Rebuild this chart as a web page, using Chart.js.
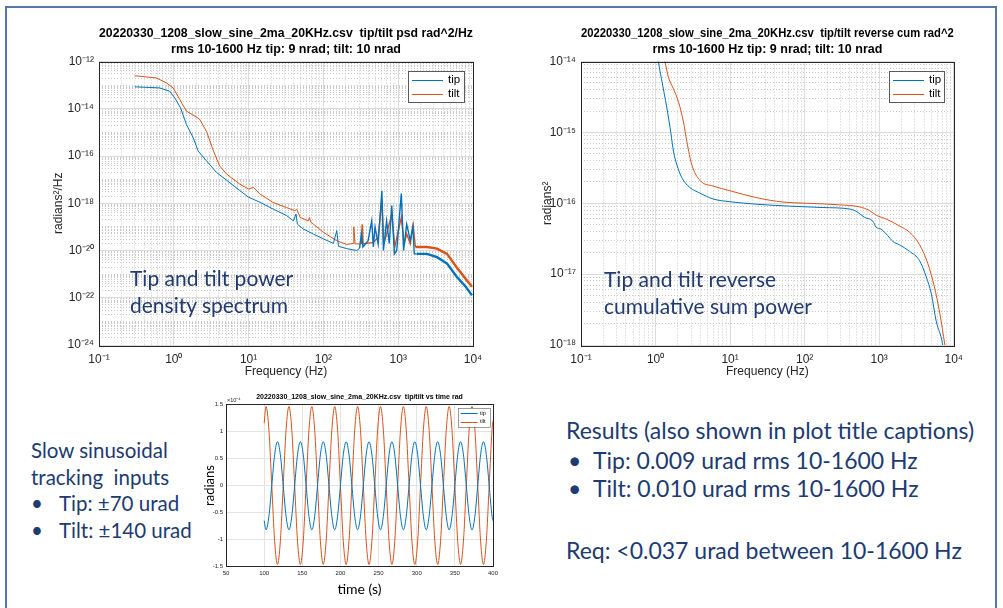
<!DOCTYPE html>
<html>
<head>
<meta charset="utf-8">
<script src="https://cdn.jsdelivr.net/npm/chart.js@4.4.1/dist/chart.umd.min.js"></script>
<style>
  body { margin: 0; width: 1003px; height: 608px; background: #fff; overflow: hidden; position: relative; }
  #frame { position: absolute; left: 5px; top: 6px; width: 988px; height: 640px; border: 2px solid #5676a9; }
  canvas { position: absolute; }
  .note { position: absolute; color: #203a72; font-family: Lato, sans-serif; font-size: 21px; line-height: 26px; white-space: nowrap; }
  .small { font-size: 20.5px; }
  .big { font-size: 23px; }
</style>
</head>
<body>
<div id="frame"></div>
<canvas id="psd-chart" width="450" height="358" style="left:40px;top:21px"></canvas>
<canvas id="cum-chart" width="440" height="358" style="left:530px;top:21px"></canvas>
<canvas id="time-chart" width="303" height="208" style="left:200px;top:390px"></canvas>

<div class="note" style="left:130px;top:265px">Tip and tilt power</div>
<div class="note" style="left:130px;top:292px">density spectrum</div>
<div class="note" style="left:604px;top:266px">Tip and tilt reverse</div>
<div class="note" style="left:604px;top:293px">cumulative sum power</div>

<div class="note small" style="left:31px;top:437px">Slow sinusoidal</div>
<div class="note small" style="left:31px;top:464px">tracking&nbsp; inputs</div>
<div class="note small" style="left:31px;top:490px">•</div>
<div class="note small" style="left:59px;top:490px">Tip: ±70 urad</div>
<div class="note small" style="left:31px;top:517px">•</div>
<div class="note small" style="left:59px;top:517px">Tilt: ±140 urad</div>

<div class="note big" style="left:566px;top:417px">Results (also shown in plot title captions)</div>
<div class="note big" style="left:568px;top:447px">•</div>
<div class="note big" style="left:593px;top:447px">Tip: 0.009 urad rms 10-1600 Hz</div>
<div class="note big" style="left:568px;top:475px">•</div>
<div class="note big" style="left:593px;top:475px">Tilt: 0.010 urad rms 10-1600 Hz</div>
<div class="note big" style="left:566px;top:537px">Req: &lt;0.037 urad between 10-1600 Hz</div>

<script>
'use strict';

// ---- data ----

const psdTipHz = [0.30, 0.65, 0.88, 1.03, 1.23, 1.48, 1.82, 2.12, 2.74, 3.73, 5.07, 7.66, 10, 14.2, 21.4, 32.3, 39.7, 43, 44.9, 54, 73, 100, 136, 151, 159, 205, 279,
                  305, 321, 338, 396, 443, 465, 490, 540, 605, 635, 700, 760, 820, 890, 955, 1100, 1180, 1300, 1450, 1570, 1640, 1780, 2420, 3300, 4500, 6100, 8000, 9700];
const psdTip = [8.5e-14, 7.6e-14, 5.5e-14, 2.9e-14, 1.1e-14, 2.1e-15, 5.9e-16, 1.6e-16, 6.2e-17, 2.0e-17, 9.5e-18, 3.4e-18, 1.8e-18, 1.1e-18, 5.6e-19, 3.0e-19, 1.8e-19, 3.5e-19, 1.3e-19, 8.1e-20, 5.0e-20, 3.1e-20, 2.0e-20, 6.9e-20, 1.5e-20, 1.2e-20, 1.0e-20,
                1.25e-20, 5e-20, 1.4e-20, 2.6e-20, 1.8e-19, 1.4e-20, 1e-19, 1.9e-20, 3.4e-18, 1e-20, 1.8e-19, 2e-20, 8e-19, 7.2e-21, 1e-20, 2.6e-18, 1e-20, 1.3e-19, 2.6e-20, 1e-19, 7.2e-21, 7.2e-21, 7.2e-21, 5.2e-21, 2.8e-21, 7.6e-22, 2.9e-22, 1.26e-22];

const psdTiltHz = [0.30, 0.59, 0.80, 0.98, 1.2, 1.47, 1.81, 2.2, 2.74, 3.4, 4.1, 5.1, 7.6, 10, 11.6, 14.1, 21, 32, 41.6, 44, 49, 63, 65, 68, 100, 151, 205, 252, 255, 265,
                   323, 330, 340, 465, 540, 605, 640, 700, 820, 900, 1100, 1200, 1300, 1450, 1580, 1700, 2450, 3300, 4500, 6000, 7900, 9700];
const psdTilt = [2.5e-13, 2.0e-13, 1.23e-13, 7.6e-14, 2.5e-14, 8e-15, 5.4e-15, 3.7e-15, 1.1e-15, 1.6e-16, 3.8e-17, 1.7e-17, 6.5e-18, 4.0e-18, 4.7e-18, 2.5e-18, 1.1e-18, 6.6e-19, 4.8e-19, 5.6e-19, 2.5e-19, 1.8e-19, 2.5e-19, 1.6e-19, 5.9e-20, 2.6e-20, 1.8e-20, 2.0e-20, 1.0e-19, 1.9e-20,
                 1.9e-20, 1.3e-19, 1.9e-20, 2.2e-20, 3.6e-20, 1.5e-18, 1.9e-20, 5e-20, 3.5e-19, 1.4e-20, 2.5e-19, 1.9e-20, 5e-20, 1.9e-20, 1.2e-19, 1.4e-20, 1.4e-20, 1.2e-20, 7.2e-21, 2e-21, 6.5e-22, 2.9e-22];

const cumTipHz = [1.0, 1.09, 1.2, 1.42, 1.6, 1.74, 1.93, 2.25, 2.9, 3.9, 5.9, 10, 22.5, 63, 176, 400, 500, 640, 820, 910, 1060, 1300, 1520, 1860, 2550, 3480, 4280, 5000, 5800, 7100, 7500];
const cumTip = [2e-14, 1e-14, 5.7e-15, 2.2e-15, 1e-15, 5.4e-16, 3.5e-16, 2.3e-16, 1.66e-16, 1.4e-16, 1.15e-16, 1.05e-16, 9.7e-17, 9.1e-17, 8.7e-17, 8.3e-17, 7.6e-17, 6.3e-17, 5.6e-17, 4.6e-17, 4.3e-17, 3.5e-17, 2.9e-17, 2.6e-17, 2.1e-17, 1.55e-17, 9.1e-18, 5.3e-18, 2.2e-18, 1e-18, 6e-19];

const cumTiltHz = [1.2, 1.34, 1.49, 1.74, 2.03, 2.37, 2.63, 3.06, 3.94, 5.9, 10, 22.5, 51, 106, 296, 540, 740, 910, 1280, 1860, 2550, 3480, 4500, 5500, 6500, 7600, 8000];
const cumTilt = [2e-14, 1e-14, 6e-15, 4.1e-15, 2.7e-15, 1.4e-15, 7.4e-16, 3.5e-16, 2.1e-16, 1.75e-16, 1.5e-16, 1.2e-16, 1.04e-16, 1.0e-16, 9.5e-17, 8.9e-17, 7.9e-17, 6.8e-17, 5.9e-17, 4.8e-17, 3.9e-17, 2.6e-17, 1.4e-17, 6.6e-18, 2.8e-18, 1e-18, 7e-19];

// time trace, radians x 1e-4
const timeSec = [100,
  102.5, 106.25, 110, 113.75, 117.5, 121.25, 125, 128.75,
  132.5, 136.25, 140, 143.75, 147.5, 151.25, 155, 158.75,
  162.5, 166.25, 170, 173.75, 177.5, 181.25, 185, 188.75,
  192.5, 196.25, 200, 203.75, 207.5, 211.25, 215, 218.75,
  222.5, 226.25, 230, 233.75, 237.5, 241.25, 245, 248.75,
  252.5, 256.25, 260, 263.75, 267.5, 271.25, 275, 278.75,
  282.5, 286.25, 290, 293.75, 297.5, 301.25, 305, 308.75,
  312.5, 316.25, 320, 323.75, 327.5, 331.25, 335, 338.75,
  342.5, 346.25, 350, 353.75, 357.5, 361.25, 365, 368.75,
  372.5, 376.25, 380, 383.75, 387.5, 391.25, 395, 398.75,
  400];
const tipRad = [-0.65,
  -0.82, -0.57, 0, 0.57, 0.81, 0.57, 0, -0.57,
  -0.82, -0.57, 0, 0.57, 0.81, 0.57, 0, -0.57,
  -0.82, -0.57, 0, 0.57, 0.81, 0.57, 0, -0.57,
  -0.82, -0.57, 0, 0.57, 0.81, 0.57, 0, -0.57,
  -0.82, -0.57, 0, 0.57, 0.81, 0.57, 0, -0.57,
  -0.82, -0.57, 0, 0.57, 0.81, 0.57, 0, -0.57,
  -0.82, -0.57, 0, 0.57, 0.81, 0.57, 0, -0.57,
  -0.82, -0.57, 0, 0.57, 0.81, 0.57, 0, -0.57,
  -0.82, -0.57, 0, 0.57, 0.81, 0.57, 0, -0.57,
  -0.82, -0.57, 0, 0.57, 0.81, 0.57, 0, -0.57,
  -0.65];
const tiltRad = [1.15,
  1.46, 1.03, 0, -1.03, -1.46, -1.03, 0, 1.03,
  1.46, 1.03, 0, -1.03, -1.46, -1.03, 0, 1.03,
  1.46, 1.03, 0, -1.03, -1.46, -1.03, 0, 1.03,
  1.46, 1.03, 0, -1.03, -1.46, -1.03, 0, 1.03,
  1.46, 1.03, 0, -1.03, -1.46, -1.03, 0, 1.03,
  1.46, 1.03, 0, -1.03, -1.46, -1.03, 0, 1.03,
  1.46, 1.03, 0, -1.03, -1.46, -1.03, 0, 1.03,
  1.46, 1.03, 0, -1.03, -1.46, -1.03, 0, 1.03,
  1.46, 1.03, 0, -1.03, -1.46, -1.03, 0, 1.03,
  1.46, 1.03, 0, -1.03, -1.46, -1.03, 0, 1.03,
  1.2];

// tick labels
const freqDecades = [-1, 0, 1, 2, 3, 4];
const psdDecades = [-24, -22, -20, -18, -16, -14, -12];
const cumDecades = [-18, -17, -16, -15, -14];
const timeTicks = [50, 100, 150, 200, 250, 300, 350, 400];
const radTicks = [-1.5, -1, -0.5, 0, 0.5, 1, 1.5];

const psdTitle = ['20220330_1208_slow_sine_2ma_20KHz.csv  tip/tilt psd rad^2/Hz', 'rms 10-1600 Hz tip: 9 nrad; tilt: 10 nrad'];
const cumTitle = ['20220330_1208_slow_sine_2ma_20KHz.csv  tip/tilt reverse cum rad^2', 'rms 10-1600 Hz tip: 9 nrad; tilt: 10 nrad'];
const timeTitle = '20220330_1208_slow_sine_2ma_20KHz.csv  tip/tilt vs time rad';

const tipColor = '#0072BD';
const tiltColor = '#D95319';
const axisInk = '#262626';
const mlFont = '"Liberation Sans", Arial, sans-serif';

// ---- helpers ----

const supMap = {'-': '⁻', '0': '⁰', '1': '¹', '2': '²', '3': '³', '4': '⁴', '5': '⁵', '6': '⁶', '7': '⁷', '8': '⁸', '9': '⁹'};
function sup(n) {
    return String(n).split('').map(c => supMap[c]).join('');
}

function pairs(xs, ys) {
    return xs.map((x, i) => ({x: x, y: ys[i]}));
}

function logGrid(lo, hi) {
    const out = [];
    for (let e = lo; e < hi; e++) {
	for (let m = 1; m < 10; m++) out.push({value: m * Math.pow(10, e)});
    }
    out.push({value: Math.pow(10, hi)});
    return out;
}

function labelledDecade(v, decades) {
    const e = Math.round(Math.log10(v));
    return Math.abs(v / Math.pow(10, e) - 1) < 1e-6 && decades.includes(e) ? e : null;
}

function logAxis(lo, hi, decades, pad, extra) {
    return Object.assign({
	type: 'logarithmic',
	min: Math.pow(10, lo),
	max: Math.pow(10, hi),
	afterBuildTicks: scale => { scale.ticks = logGrid(lo, hi); },
	ticks: {
	    autoSkip: false,
	    maxRotation: 0,
	    color: axisInk,
	    padding: pad,
	    font: {family: mlFont, size: 12},
	    callback: v => {
		const e = labelledDecade(v, decades);
		return e === null ? '' : '10' + sup(e);
	    },
	},
	grid: {
	    drawTicks: false,
	    color: ctx => labelledDecade(ctx.tick.value, decades) === null ? '#c9c9c9' : '#dcdcdc',
	},
	border: {
	    display: false,
	    dash: ctx => (ctx.tick && labelledDecade(ctx.tick.value, decades) === null) ? [1, 2] : [],
	},
    }, extra);
}

// plot box and exponent note
const axesBox = {
    id: 'axesBox',
    afterDatasetsDraw(chart, args, opts) {
	const {ctx, chartArea: a} = chart;
	ctx.save();
	ctx.strokeStyle = axisInk;
	ctx.lineWidth = 1;
	ctx.strokeRect(Math.round(a.left) + 0.5, Math.round(a.top) + 0.5, Math.round(a.width), Math.round(a.height));
	if (opts.corner) {
	    ctx.fillStyle = axisInk;
	    ctx.font = '5.5px ' + mlFont;
	    ctx.textBaseline = 'bottom';
	    ctx.fillText(opts.corner, a.left + 1, a.top - 1);
	}
	ctx.restore();
    },
};

// MATLAB style boxed legend in the upper right corner
const boxLegend = {
    id: 'boxLegend',
    afterDraw(chart, args, o) {
	const {ctx, chartArea: a} = chart;
	const x = Math.round(a.right - o.right - o.width);
	const y = Math.round(a.top + o.top);
	ctx.save();
	ctx.fillStyle = '#fff';
	ctx.fillRect(x, y, o.width, o.height);
	ctx.strokeStyle = '#5a5a5a';
	ctx.lineWidth = o.edge;
	ctx.strokeRect(x + 0.5, y + 0.5, o.width, o.height);
	ctx.font = o.size + 'px ' + mlFont;
	ctx.textBaseline = 'middle';
	chart.data.datasets.forEach((ds, i) => {
	    const cy = y + o.pad + (i + 0.5) * o.row;
	    ctx.strokeStyle = ds.borderColor;
	    ctx.lineWidth = 1;
	    ctx.beginPath();
	    ctx.moveTo(x + o.lineStart, Math.round(cy) + 0.5);
	    ctx.lineTo(x + o.lineStart + o.lineLen, Math.round(cy) + 0.5);
	    ctx.stroke();
	    ctx.fillStyle = '#000';
	    ctx.fillText(ds.label, x + o.textX, cy);
	});
	ctx.restore();
    },
};

function titleOpts(text, size, pad) {
    return {
	display: true,
	fullSize: false,
	text: text,
	color: '#000',
	font: {family: mlFont, size: size, weight: 'bold', lineHeight: 1.3},
	padding: {top: pad, bottom: pad},
    };
}

function freqLine(label, color, data, thick) {
    return {
	label: label,
	data: data,
	borderColor: color,
	borderWidth: 1,
	pointRadius: 0,
	tension: 0,
	segment: thick ? {borderWidth: ctx => ctx.p0.parsed.x > 1650 ? 2.4 : (ctx.p0.parsed.x > 300 ? 1.4 : 1)} : undefined,
    };
}

const legendBig = {width: 56, height: 31, right: 9, top: 9, pad: 2, row: 14, lineStart: 4, lineLen: 31, textX: 40, size: 11.5, edge: 1};
const freqTitle = {display: true, text: 'Frequency (Hz)', color: axisInk, font: {family: mlFont, size: 12}, padding: {top: 0, bottom: 0}};

// ---- PSD ----

new Chart(document.querySelector('#psd-chart'), {
    type: 'line',
    data: {
	datasets: [
	    freqLine('tip', tipColor, pairs(psdTipHz, psdTip), true),
	    freqLine('tilt', tiltColor, pairs(psdTiltHz, psdTilt), true),
	],
    },
    options: {
	responsive: false,
	animation: false,
	events: [],
	layout: {padding: {right: 17}},
	plugins: {
	    legend: {display: false},
	    tooltip: {enabled: false},
	    title: titleOpts(psdTitle, 12.5, 4),
	    boxLegend: legendBig,
	},
	scales: {
	    x: logAxis(-1, 4, freqDecades, 7, {
		afterFit: s => { s.height = 34; },
		title: freqTitle,
	    }),
	    y: logAxis(-24, -12, psdDecades, 5, {
		afterFit: s => { s.width = 59; },
		title: {display: true, text: 'radians²/Hz', color: axisInk, font: {family: mlFont, size: 12}, padding: {top: 11, bottom: 0}},
	    }),
	},
    },
    plugins: [axesBox, boxLegend],
});

// ---- reverse cumulative ----

new Chart(document.querySelector('#cum-chart'), {
    type: 'line',
    data: {
	datasets: [
	    Object.assign(freqLine('tip', tipColor, pairs(cumTipHz, cumTip), false), {cubicInterpolationMode: 'monotone'}),
	    Object.assign(freqLine('tilt', tiltColor, pairs(cumTiltHz, cumTilt), false), {cubicInterpolationMode: 'monotone'}),
	],
    },
    options: {
	responsive: false,
	animation: false,
	events: [],
	layout: {padding: {right: 16}},
	plugins: {
	    legend: {display: false},
	    tooltip: {enabled: false},
	    title: titleOpts(cumTitle, 12.5, 4),
	    boxLegend: Object.assign({}, legendBig, {width: 55, right: 10}),
	},
	scales: {
	    x: logAxis(-1, 4, freqDecades, 7, {
		afterFit: s => { s.height = 34; },
		title: freqTitle,
	    }),
	    y: logAxis(-18, -14, cumDecades, 5, {
		afterFit: s => { s.width = 51; },
		title: {display: true, text: 'radians²', color: axisInk, font: {family: mlFont, size: 12}, padding: {top: 10, bottom: 0}},
	    }),
	},
    },
    plugins: [axesBox, boxLegend],
});

// ---- time trace ----

function linAxis(min, max, ticks, extra) {
    return Object.assign({
	type: 'linear',
	min: min,
	max: max,
	afterBuildTicks: scale => { scale.ticks = ticks.map(v => ({value: v})); },
	ticks: {autoSkip: false, maxRotation: 0, color: axisInk, font: {family: mlFont, size: 6}, padding: 3, callback: v => String(v)},
	grid: {drawTicks: false, color: '#e3e3e3'},
	border: {display: false},
    }, extra);
}

new Chart(document.querySelector('#time-chart'), {
    type: 'line',
    data: {
	labels: timeSec,
	datasets: [
	    {label: 'tip', data: tipRad, borderColor: tipColor, borderWidth: 1, pointRadius: 0, cubicInterpolationMode: 'monotone'},
	    {label: 'tilt', data: tiltRad, borderColor: tiltColor, borderWidth: 1, pointRadius: 0, cubicInterpolationMode: 'monotone'},
	],
    },
    options: {
	responsive: false,
	animation: false,
	events: [],
	layout: {padding: {right: 10}},
	plugins: {
	    legend: {display: false},
	    tooltip: {enabled: false},
	    title: Object.assign(titleOpts(timeTitle, 7, 3), {font: {family: mlFont, size: 7, weight: 'bold', lineHeight: 1.2}}),
	    boxLegend: {width: 32, height: 19, right: 3, top: 4, pad: 1, row: 8.4, lineStart: 2.7, lineLen: 17, textX: 22, size: 5.5, edge: 0.6},
	    axesBox: {corner: '×10⁻⁴'},
	},
	scales: {
	    x: linAxis(50, 400, timeTicks, {
		afterFit: s => { s.height = 31.4; },
		title: {display: true, text: 'time (s)', color: '#000', font: {family: 'Lato, sans-serif', size: 14}, padding: {top: 0, bottom: 0}},
	    }),
	    y: linAxis(-1.5, 1.5, radTicks, {
		afterFit: s => { s.width = 26; },
		title: {display: true, text: 'radians', color: '#000', font: {family: 'Lato, sans-serif', size: 13}, padding: {top: 2, bottom: 0}},
	    }),
	},
    },
    plugins: [axesBox, boxLegend],
});
</script>
</body>
</html>
